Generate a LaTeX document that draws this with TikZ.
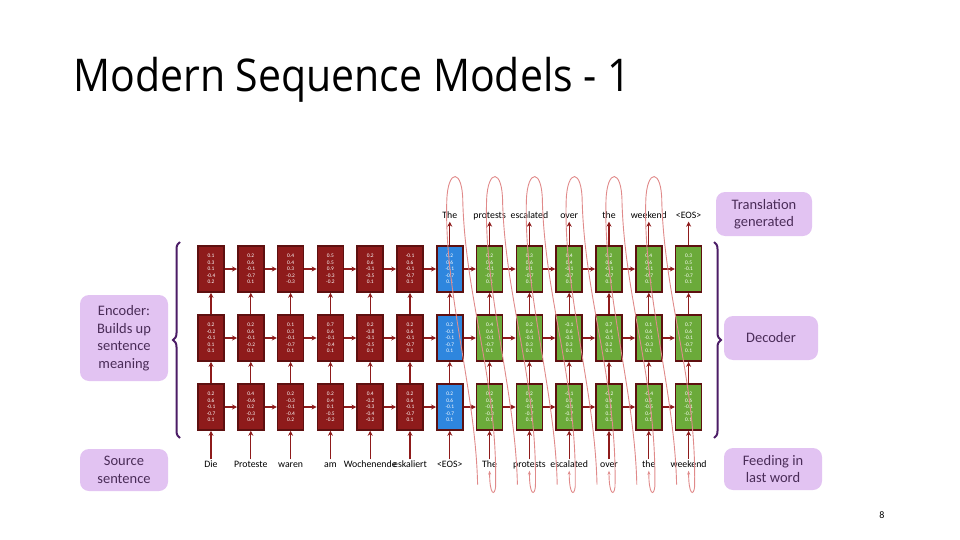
\documentclass[tikz,border=0pt]{standalone}
\usepackage{fontspec}
\setmainfont{Carlito}
\newfontfamily\titlefont{Open Sans}
\usetikzlibrary{calc,arrows.meta,decorations.pathreplacing}
\definecolor{encred}{HTML}{8E1B1B}
\definecolor{edgered}{HTML}{5E1010}
\definecolor{decblue}{HTML}{2E86DE}
\definecolor{decgreen}{HTML}{6BAA3A}
\definecolor{lav}{HTML}{E2C3F2}
\definecolor{lavtext}{HTML}{4A2C58}
\definecolor{loopred}{HTML}{E08A8A}
\definecolor{bracecol}{HTML}{4B1C66}
\tikzset{
  cell/.style={draw=edgered,line width=1.6pt,minimum width=26pt,minimum height=46pt,
    inner sep=0pt,text=white,font=\fontsize{5.4}{6.6}\selectfont,align=center},
  word/.style={font=\fontsize{9.8}{12}\selectfont,inner sep=1pt,text height=7pt,text depth=2pt},
  flow/.style={draw=encred,line width=1.3pt,-{Stealth[length=5pt,width=5pt]}},
  tag/.style={fill=lav,rounded corners=9pt,text=lavtext,align=center,
    font=\fontsize{14.5}{17.5}\selectfont,inner sep=0pt},
  feed/.style={draw=loopred,line width=0.9pt,-{Stealth[length=4pt]}},
  bracket/.style={draw=bracecol,line width=2pt,decoration={brace,amplitude=7pt}}
}
\begin{document}
\begin{tikzpicture}[x=1pt,y=-1pt]
\useasboundingbox (0,0) rectangle (960,540);
\node[anchor=west,font=\titlefont\fontsize{41}{44}\selectfont,yscale=1.1] (title) at (70,80) {Modern Sequence Models - 1};
% cells: row 1 top, row 3 bottom
\foreach \c/\va/\vb/\vc in {
 1/{0.1\\0.3\\0.1\\-0.4\\0.2}/{0.2\\-0.2\\-0.1\\0.1\\0.1}/{0.2\\0.6\\-0.1\\-0.7\\0.1},
 2/{0.2\\0.6\\-0.1\\-0.7\\0.1}/{0.2\\0.6\\-0.1\\-0.2\\0.1}/{0.4\\-0.6\\0.2\\-0.3\\0.4},
 3/{0.4\\0.4\\0.3\\-0.2\\-0.3}/{0.1\\0.3\\-0.1\\-0.7\\0.1}/{0.2\\-0.3\\-0.1\\-0.4\\0.2},
 4/{0.5\\0.5\\0.9\\-0.3\\-0.2}/{0.7\\0.6\\-0.1\\-0.4\\0.1}/{0.2\\0.4\\0.1\\-0.5\\-0.2},
 5/{0.2\\0.6\\-0.1\\-0.5\\0.1}/{0.2\\-0.8\\-0.1\\-0.5\\0.1}/{0.4\\-0.2\\-0.3\\-0.4\\-0.2},
 6/{-0.1\\0.6\\-0.1\\-0.7\\0.1}/{0.2\\0.6\\-0.1\\-0.7\\0.1}/{0.2\\0.6\\-0.1\\-0.7\\0.1},
 7/{0.2\\0.6\\-0.1\\-0.7\\0.1}/{0.2\\-0.1\\-0.1\\-0.7\\0.1}/{0.2\\0.6\\-0.1\\-0.7\\0.1},
 8/{0.2\\0.6\\-0.1\\-0.7\\0.1}/{0.4\\0.6\\-0.1\\-0.7\\0.1}/{0.2\\0.6\\-0.1\\-0.3\\0.1},
 9/{0.3\\0.6\\0.1\\-0.7\\0.1}/{0.2\\0.6\\-0.1\\0.3\\0.1}/{0.2\\0.6\\-0.1\\-0.7\\0.1},
 10/{0.4\\0.4\\-0.1\\-0.7\\0.1}/{-0.1\\0.6\\-0.1\\0.3\\0.1}/{-0.1\\0.3\\-0.1\\-0.7\\0.1},
 11/{0.2\\0.6\\-0.1\\-0.7\\0.1}/{0.7\\0.4\\-0.1\\0.2\\0.1}/{-0.2\\0.6\\0.1\\0.3\\0.1},
 12/{0.4\\0.6\\-0.1\\-0.7\\0.1}/{0.1\\0.6\\-0.1\\-0.3\\0.1}/{-0.4\\0.5\\-0.5\\0.4\\0.1},
 13/{0.3\\0.5\\-0.1\\-0.7\\0.1}/{0.7\\0.6\\-0.1\\-0.7\\0.1}/{0.2\\0.6\\-0.1\\-0.7\\0.1}}{
  \pgfmathsetmacro\x{211+(\c-1)*39.8}
  \ifnum\c<7 \def\fc{encred}\else\ifnum\c=7 \def\fc{decblue}\else\def\fc{decgreen}\fi\fi
  \node[cell,fill=\fc] (r1c\c) at (\x,269) {\va};
  \node[cell,fill=\fc] (r2c\c) at (\x,338) {\vb};
  \node[cell,fill=\fc] (r3c\c) at (\x,407) {\vc};
}
% input words
\foreach \c/\w in {1/Die,2/Proteste,3/waren,4/am,5/Wochenende,6/eskaliert,7/<EOS>,
  8/The,9/protests,10/escalated,11/over,12/the,13/weekend}{
  \pgfmathsetmacro\x{211+(\c-1)*39.8}
  \node[word] (b\c) at (\x,465) {\w};
}
% output words
\foreach \c/\w in {7/The,8/protests,9/escalated,10/over,11/the,12/weekend,13/<EOS>}{
  \pgfmathsetmacro\x{211+(\c-1)*39.8}
  \node[word] (t\c) at (\x,216) {\w};
  \draw[flow] (r1c\c) -- (t\c);
}
% vertical and horizontal flow
\foreach \c in {1,...,13}{
  \draw[flow] (b\c) -- (r3c\c);
  \draw[flow] (r3c\c) -- (r2c\c);
  \draw[flow] (r2c\c) -- (r1c\c);
}
\foreach \c [evaluate=\c as \n using int(\c+1)] in {1,...,12}{
  \draw[flow] (r1c\c) -- (r1c\n);
  \draw[flow] (r2c\c) -- (r2c\n);
  \draw[flow] (r3c\c) -- (r3c\n);
}
% feeding loops
\foreach \k [evaluate=\k as \j using int(\k+1)] in {7,...,12}{
  \draw[feed] ($(b\j.south)+(-12,14)$)
    .. controls ($(b\j.south)+(-14,-80)$) and ($(t\k.north)+(-6,80)$) .. ($(t\k.north)+(-3,-10)$)
    .. controls ($(t\k.north)+(-2,-42)$) and ($(t\k.north)+(13,-42)$) .. ($(t\k.north)+(13,-8)$)
    .. controls ($(t\k.north)+(16,90)$) and ($(b\j.south)+(8,-90)$) .. ($(b\j.south)+(6,16)$)
    .. controls ($(b\j.south)+(5,26)$) and ($(b\j.south)+(0,24)$) .. (b\j.south);
}
% braces
\draw[bracket,decorate] (180,438) -- (180,242);
\draw[bracket,decorate] (714,242) -- (714,438);
% tags
\node[tag,minimum width=88pt,minimum height=86pt] (enc) at (124,338) {Encoder:\\Builds up\\sentence\\meaning};
\node[tag,minimum width=88pt,minimum height=42pt] (src) at (124,470) {Source\\sentence};
\node[tag,minimum width=96pt,minimum height=44pt] (gen) at (764,214) {Translation\\generated};
\node[tag,minimum width=94pt,minimum height=44pt] (dec) at (771,338) {Decoder};
\node[tag,minimum width=98pt,minimum height=42pt] (fed) at (773,469) {Feeding in\\last word};
\node[font=\fontsize{10}{12}\selectfont] (page) at (882,515) {8};
\end{tikzpicture}
\end{document}
